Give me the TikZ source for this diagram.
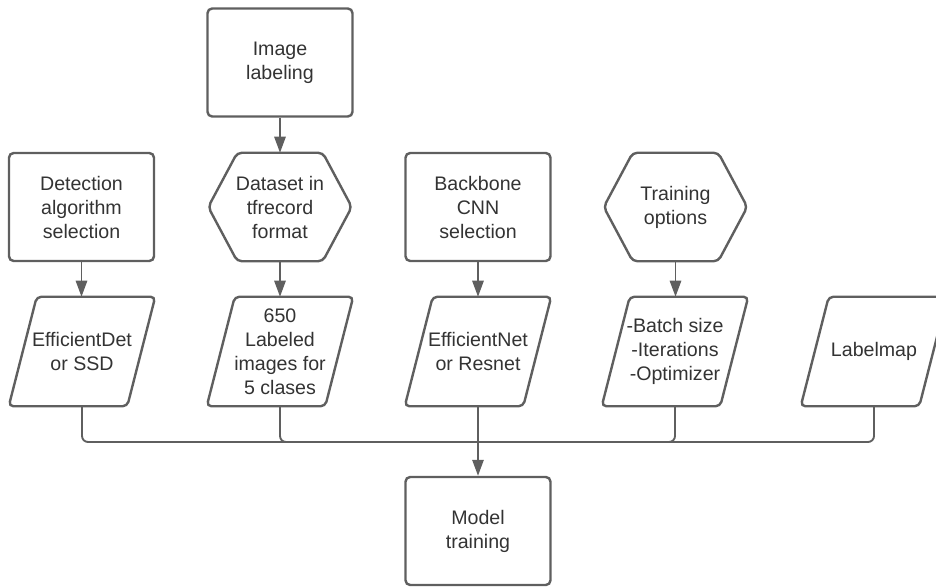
\documentclass[tikz,border=0pt]{standalone}
\usepackage{fontspec}
\setmainfont{Liberation Sans}
\usetikzlibrary{arrows.meta}
\definecolor{edgegray}{RGB}{95,95,95}
\definecolor{textgray}{RGB}{51,51,51}
\tikzset{
  base/.style={text=textgray, align=center, inner sep=0pt,
    font=\fontsize{14.7}{18}\selectfont},
  outline/.style={draw=edgegray, line width=1.8pt, rounded corners=3.5pt},
  procbox/.style={base, outline, rectangle, minimum width=108.75pt, minimum height=81pt},
  prepbox/.style={base, rectangle, minimum width=107.25pt, minimum height=81pt},
  databox/.style={base, rectangle, minimum width=109.5pt, minimum height=81.75pt},
  link/.style={draw=edgegray, line width=1.4pt, rounded corners=4.5pt},
  arrow/.style={link, -{Triangle[length=12pt,width=8.5pt]}}
}
\begin{document}
\begin{tikzpicture}[x=0.75pt,y=-0.75pt]
\useasboundingbox (0,0) rectangle (936,588);
% top row
\node[procbox] (img) at (280,62.5) {Image\\labeling};
\node[procbox] (det) at (81.5,207) {Detection\\algorithm\\selection};
\node[prepbox] (dset) at (280,207) {Dataset in\\tfrecord\\format};
\node[procbox] (bb) at (478,207) {Backbone\\CNN\\selection};
\node[prepbox] (topt) at (675.5,207) {Training\\options};
% hexagon outlines
\foreach \n in {dset,topt}
  \draw[outline] ([xshift=21.75pt]\n.north west) -- ([xshift=-21.75pt]\n.north east)
    -- (\n.east) -- ([xshift=-21.75pt]\n.south east)
    -- ([xshift=21.75pt]\n.south west) -- (\n.west) -- cycle;
% data row
\node[databox] (p1) at (82,351.5) {EfficientDet\\or SSD};
\node[databox] (p2) at (280,351.5) {650\\Labeled\\images for\\5 clases};
\node[databox] (p3) at (478,351.5) {EfficientNet\\or Resnet};
\node[databox] (p4) at (675,351.5) {-Batch size\\-Iterations\\-Optimizer};
\node[databox] (p5) at (874,351.5) {Labelmap};
% parallelogram outlines
\foreach \n in {p1,p2,p3,p4,p5}
  \draw[outline] ([xshift=21pt]\n.north west) -- (\n.north east)
    -- ([xshift=-21pt]\n.south east) -- (\n.south west) -- cycle;
\node[procbox] (mt) at (478,531) {Model\\training};
\coordinate (bus) at (478,442);
% arrows
\draw[arrow] (img) -- (dset);
\draw[arrow] (det) -- (det.south |- p1.north);
\draw[arrow] (dset) -- (dset.south |- p2.north);
\draw[arrow] (bb) -- (bb.south |- p3.north);
\draw[arrow] (topt) -- (topt.south |- p4.north);
% bus
\foreach \p in {p1,p2,p4,p5}
  \draw[link] (\p.south) |- (bus);
\draw[arrow] (p3) -- (mt);
\end{tikzpicture}
\end{document}
